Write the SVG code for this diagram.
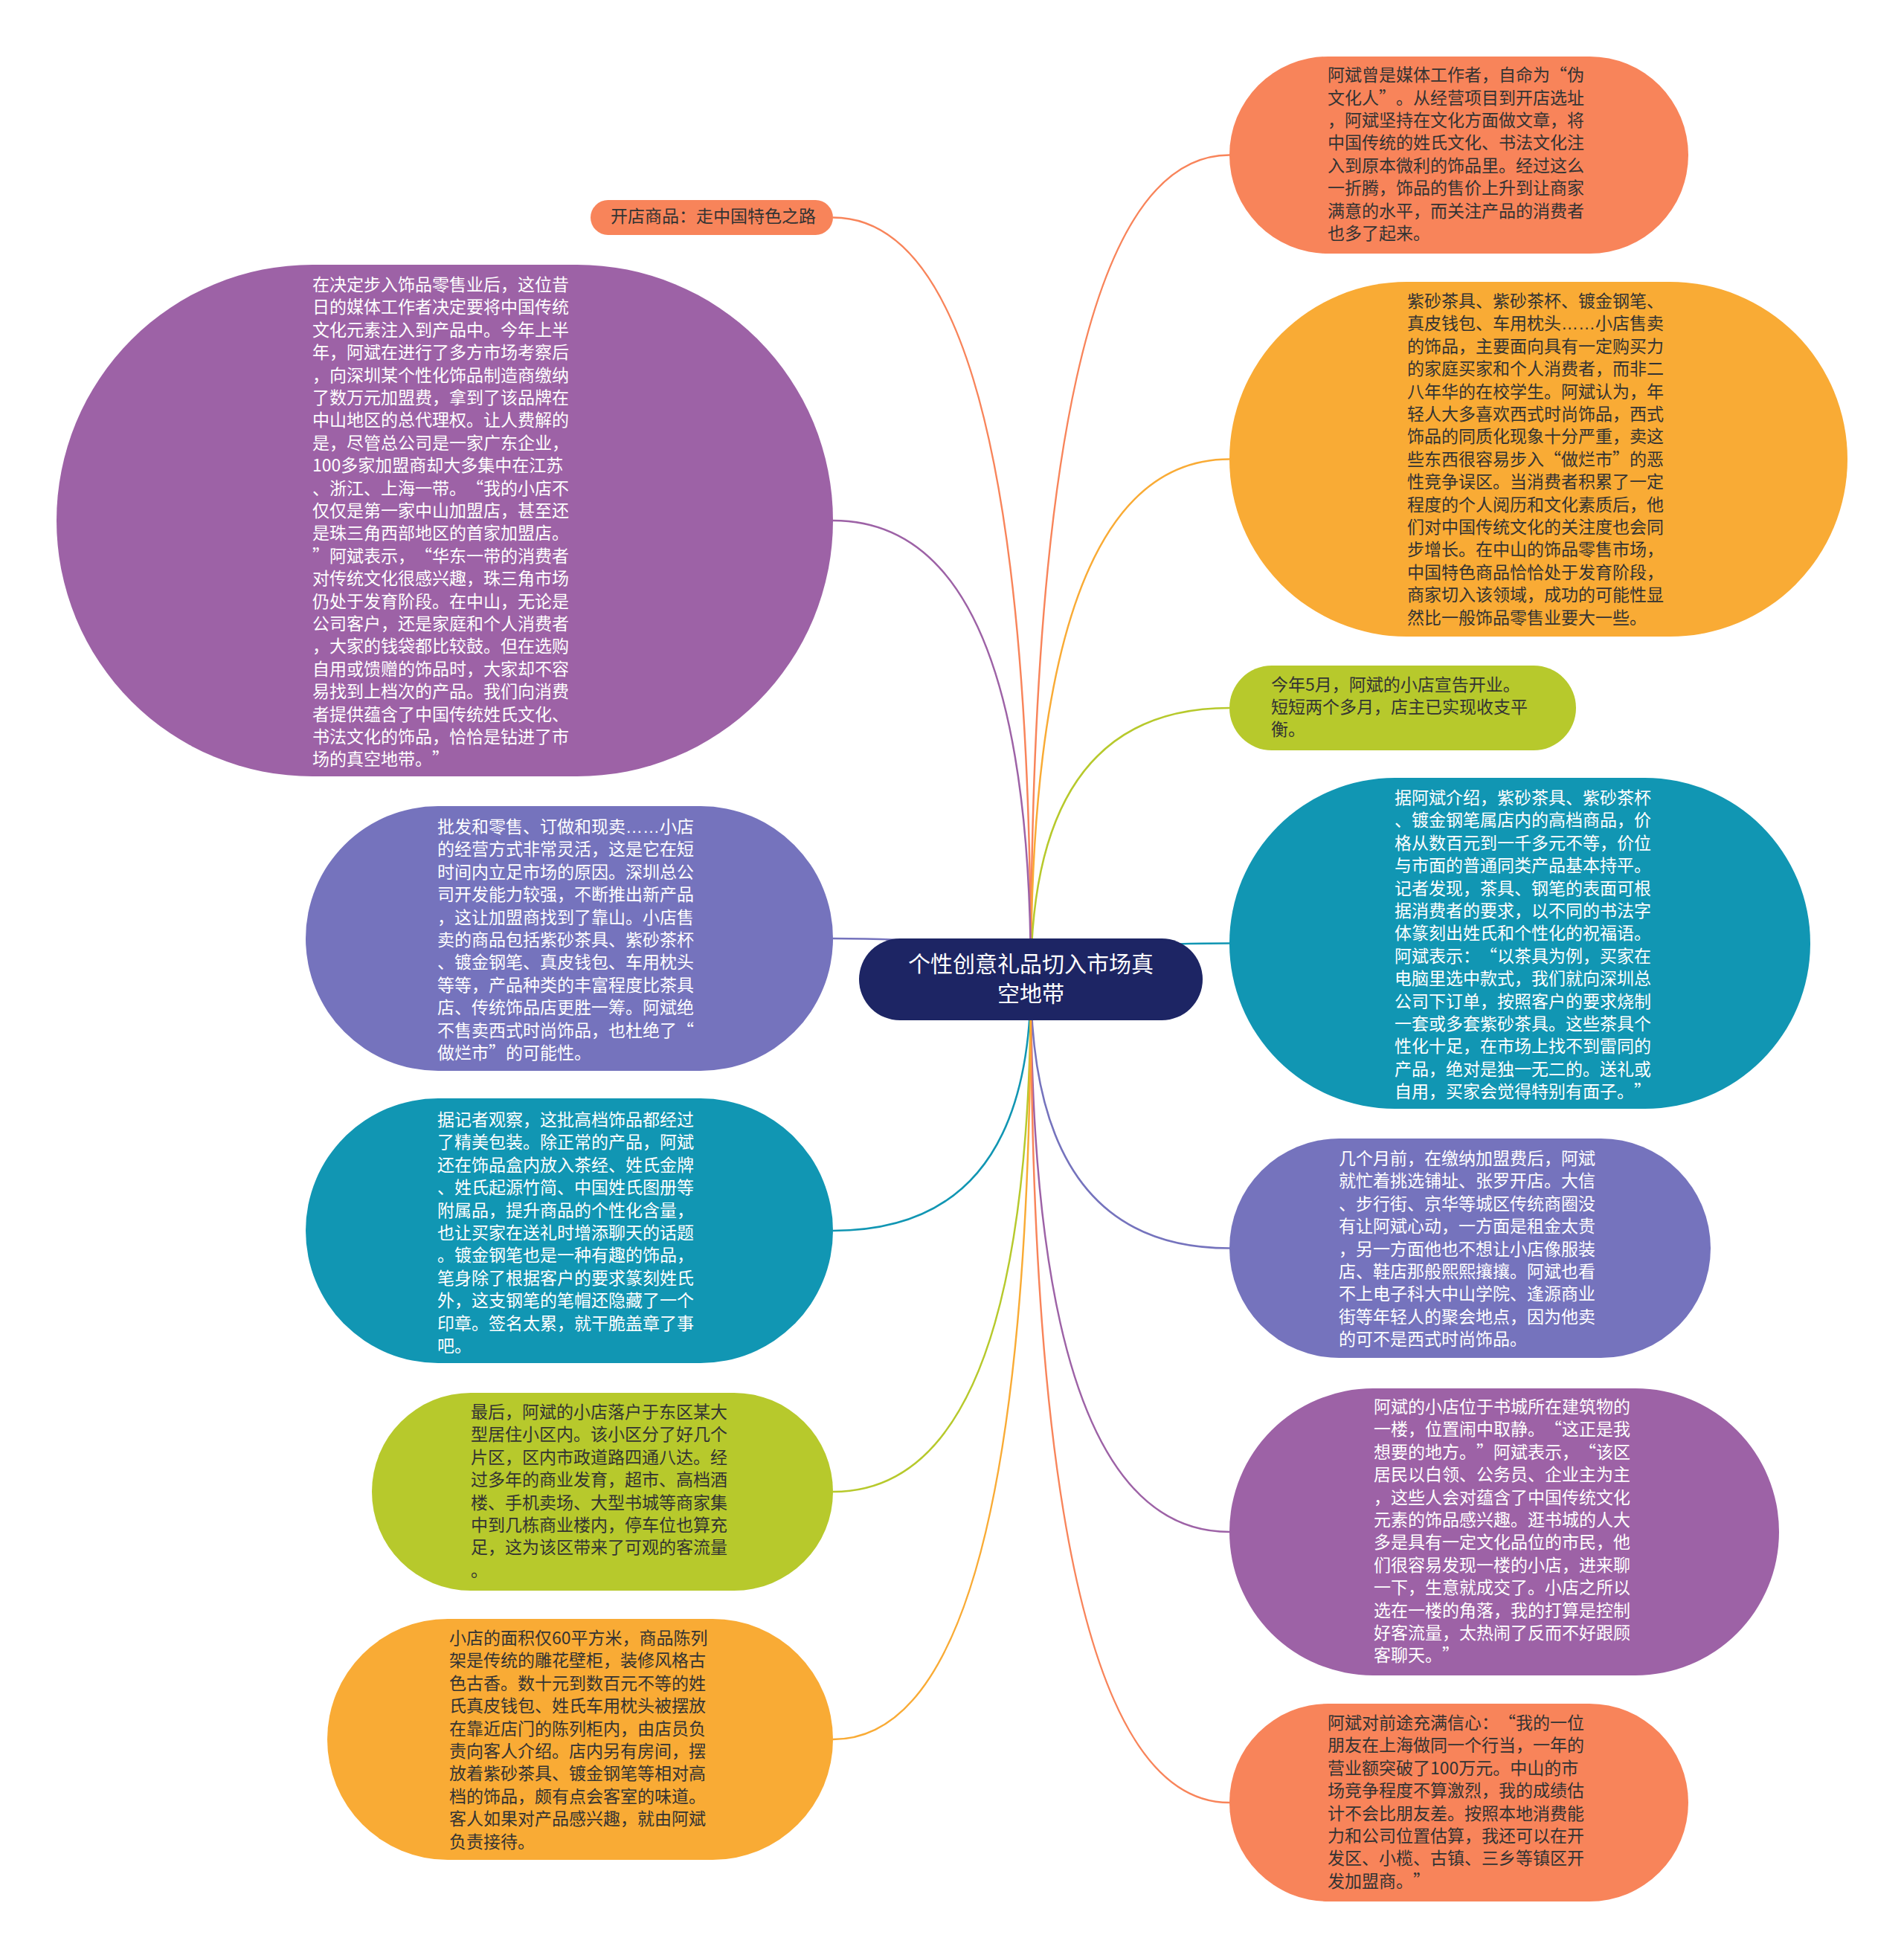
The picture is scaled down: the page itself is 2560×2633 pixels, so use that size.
<svg xmlns="http://www.w3.org/2000/svg" width="2560" height="2633" viewBox="0 0 2560 2633">
<style>
.t{font-family:"Noto Sans CJK SC","Noto Sans",sans-serif;font-size:23px;text-spacing-trim:space-all}
.d{fill:#333333}
.w{fill:#ffffff}
.c{fill:none;stroke-width:2.5}
.e{font-family:"Liberation Sans",sans-serif}
.root{font-family:"Noto Sans CJK SC","Noto Sans",sans-serif;font-size:30px;fill:#ffffff}
</style>
<rect width="2560" height="2633" fill="#ffffff"/>
<g id="connectors">
<path class="c" stroke="#F8845A" d="M1386 1317 Q1386 208.5 1653 208.5"/>
<path class="c" stroke="#F9AB35" d="M1386 1317 Q1386 617.5 1653 617.5"/>
<path class="c" stroke="#B7C92C" d="M1386 1317 Q1386 952 1653 952"/>
<path class="c" stroke="#1196B3" d="M1386 1317 Q1386 1268.5 1653 1268.5"/>
<path class="c" stroke="#7573BD" d="M1386 1317 Q1386 1678.5 1653 1678.5"/>
<path class="c" stroke="#9D62A6" d="M1386 1317 Q1386 2060 1653 2060"/>
<path class="c" stroke="#F8845A" d="M1386 1317 Q1386 2424 1653 2424"/>
<path class="c" stroke="#F8845A" d="M1386 1317 Q1386 292.5 1120 292.5"/>
<path class="c" stroke="#9D62A6" d="M1386 1317 Q1386 700 1120 700"/>
<path class="c" stroke="#7573BD" d="M1386 1317 Q1386 1262 1120 1262"/>
<path class="c" stroke="#1196B3" d="M1386 1317 Q1386 1655 1120 1655"/>
<path class="c" stroke="#B7C92C" d="M1386 1317 Q1386 2006 1120 2006"/>
<path class="c" stroke="#F9AB35" d="M1386 1317 Q1386 2339 1120 2339"/>
</g>
<g id="root">
<rect x="1155" y="1262" width="462" height="110" rx="55" fill="#1D2564"/>
<text class="root" text-anchor="middle"><tspan x="1386" y="1307">个性创意礼品切入市场真</tspan><tspan x="1386" y="1347">空地带</tspan></text>
</g>
<g id="n1">
<rect x="1653" y="76" width="617" height="265" rx="132.5" fill="#F8845A"/>
<text class="t d"><tspan x="1785" y="109.2">阿斌曾是媒体工作者，自命为“伪</tspan><tspan x="1785" y="139.6">文化人”。从经营项目到开店选址</tspan><tspan x="1785" y="170">，阿斌坚持在文化方面做文章，将</tspan><tspan x="1785" y="200.4">中国传统的姓氏文化、书法文化注</tspan><tspan x="1785" y="230.8">入到原本微利的饰品里。经过这么</tspan><tspan x="1785" y="261.2">一折腾，饰品的售价上升到让商家</tspan><tspan x="1785" y="291.6">满意的水平，而关注产品的消费者</tspan><tspan x="1785" y="322">也多了起来。</tspan></text>
</g>
<g id="n2">
<rect x="1653" y="379" width="831" height="477" rx="238.5" fill="#F9AB35"/>
<text class="t d"><tspan x="1892" y="413">紫砂茶具、紫砂茶杯、镀金钢笔、</tspan><tspan x="1892" y="443.4">真皮钱包、车用枕头<tspan class="e">……</tspan>小店售卖</tspan><tspan x="1892" y="473.8">的饰品，主要面向具有一定购买力</tspan><tspan x="1892" y="504.2">的家庭买家和个人消费者，而非二</tspan><tspan x="1892" y="534.6">八年华的在校学生。阿斌认为，年</tspan><tspan x="1892" y="565">轻人大多喜欢西式时尚饰品，西式</tspan><tspan x="1892" y="595.4">饰品的同质化现象十分严重，卖这</tspan><tspan x="1892" y="625.8">些东西很容易步入“做烂市”的恶</tspan><tspan x="1892" y="656.2">性竞争误区。当消费者积累了一定</tspan><tspan x="1892" y="686.6">程度的个人阅历和文化素质后，他</tspan><tspan x="1892" y="717">们对中国传统文化的关注度也会同</tspan><tspan x="1892" y="747.4">步增长。在中山的饰品零售市场，</tspan><tspan x="1892" y="777.8">中国特色商品恰恰处于发育阶段，</tspan><tspan x="1892" y="808.2">商家切入该领域，成功的可能性显</tspan><tspan x="1892" y="838.6">然比一般饰品零售业要大一些。</tspan></text>
</g>
<g id="n3">
<rect x="1653" y="895" width="466" height="114" rx="57" fill="#B7C92C"/>
<text class="t d"><tspan x="1709" y="928.5">今年5月，阿斌的小店宣告开业。</tspan><tspan x="1709" y="958.9">短短两个多月，店主已实现收支平</tspan><tspan x="1709" y="989.3">衡。</tspan></text>
</g>
<g id="n4">
<rect x="1653" y="1046" width="781" height="445" rx="222.5" fill="#1196B3"/>
<text class="t w"><tspan x="1875" y="1081">据阿斌介绍，紫砂茶具、紫砂茶杯</tspan><tspan x="1875" y="1111.4">、镀金钢笔属店内的高档商品，价</tspan><tspan x="1875" y="1141.8">格从数百元到一千多元不等，价位</tspan><tspan x="1875" y="1172.2">与市面的普通同类产品基本持平。</tspan><tspan x="1875" y="1202.6">记者发现，茶具、钢笔的表面可根</tspan><tspan x="1875" y="1233">据消费者的要求，以不同的书法字</tspan><tspan x="1875" y="1263.4">体篆刻出姓氏和个性化的祝福语。</tspan><tspan x="1875" y="1293.8">阿斌表示：“以茶具为例，买家在</tspan><tspan x="1875" y="1324.2">电脑里选中款式，我们就向深圳总</tspan><tspan x="1875" y="1354.6">公司下订单，按照客户的要求烧制</tspan><tspan x="1875" y="1385">一套或多套紫砂茶具。这些茶具个</tspan><tspan x="1875" y="1415.4">性化十足，在市场上找不到雷同的</tspan><tspan x="1875" y="1445.8">产品，绝对是独一无二的。送礼或</tspan><tspan x="1875" y="1476.2">自用，买家会觉得特别有面子。”</tspan></text>
</g>
<g id="n5">
<rect x="1653" y="1531" width="647" height="295" rx="147.5" fill="#7573BD"/>
<text class="t w"><tspan x="1800" y="1566">几个月前，在缴纳加盟费后，阿斌</tspan><tspan x="1800" y="1596.4">就忙着挑选铺址、张罗开店。大信</tspan><tspan x="1800" y="1626.8">、步行街、京华等城区传统商圈没</tspan><tspan x="1800" y="1657.2">有让阿斌心动，一方面是租金太贵</tspan><tspan x="1800" y="1687.6">，另一方面他也不想让小店像服装</tspan><tspan x="1800" y="1718">店、鞋店那般熙熙攘攘。阿斌也看</tspan><tspan x="1800" y="1748.4">不上电子科大中山学院、逢源商业</tspan><tspan x="1800" y="1778.8">街等年轻人的聚会地点，因为他卖</tspan><tspan x="1800" y="1809.2">的可不是西式时尚饰品。</tspan></text>
</g>
<g id="n6">
<rect x="1653" y="1867" width="739" height="386" rx="193" fill="#9D62A6"/>
<text class="t w"><tspan x="1847" y="1900">阿斌的小店位于书城所在建筑物的</tspan><tspan x="1847" y="1930.4">一楼，位置闹中取静。“这正是我</tspan><tspan x="1847" y="1960.8">想要的地方。”阿斌表示，“该区</tspan><tspan x="1847" y="1991.2">居民以白领、公务员、企业主为主</tspan><tspan x="1847" y="2021.6">，这些人会对蕴含了中国传统文化</tspan><tspan x="1847" y="2052">元素的饰品感兴趣。逛书城的人大</tspan><tspan x="1847" y="2082.4">多是具有一定文化品位的市民，他</tspan><tspan x="1847" y="2112.8">们很容易发现一楼的小店，进来聊</tspan><tspan x="1847" y="2143.2">一下，生意就成交了。小店之所以</tspan><tspan x="1847" y="2173.6">选在一楼的角落，我的打算是控制</tspan><tspan x="1847" y="2204">好客流量，太热闹了反而不好跟顾</tspan><tspan x="1847" y="2234.4">客聊天。”</tspan></text>
</g>
<g id="n7">
<rect x="1653" y="2291" width="617" height="266" rx="133" fill="#F8845A"/>
<text class="t d"><tspan x="1785" y="2325">阿斌对前途充满信心：“我的一位</tspan><tspan x="1785" y="2355.4">朋友在上海做同一个行当，一年的</tspan><tspan x="1785" y="2385.8">营业额突破了100万元。中山的市</tspan><tspan x="1785" y="2416.2">场竞争程度不算激烈，我的成绩估</tspan><tspan x="1785" y="2446.6">计不会比朋友差。按照本地消费能</tspan><tspan x="1785" y="2477">力和公司位置估算，我还可以在开</tspan><tspan x="1785" y="2507.4">发区、小榄、古镇、三乡等镇区开</tspan><tspan x="1785" y="2537.8">发加盟商。”</tspan></text>
</g>
<g id="n8">
<rect x="794" y="269" width="326" height="47" rx="23.5" fill="#F8845A"/>
<text class="t d"><tspan x="821" y="299">开店商品：走中国特色之路</tspan></text>
</g>
<g id="n9">
<rect x="76" y="356" width="1044" height="688" rx="344" fill="#9D62A6"/>
<text class="t w"><tspan x="420" y="391">在决定步入饰品零售业后，这位昔</tspan><tspan x="420" y="421.4">日的媒体工作者决定要将中国传统</tspan><tspan x="420" y="451.8">文化元素注入到产品中。今年上半</tspan><tspan x="420" y="482.2">年，阿斌在进行了多方市场考察后</tspan><tspan x="420" y="512.6">，向深圳某个性化饰品制造商缴纳</tspan><tspan x="420" y="543">了数万元加盟费，拿到了该品牌在</tspan><tspan x="420" y="573.4">中山地区的总代理权。让人费解的</tspan><tspan x="420" y="603.8">是，尽管总公司是一家广东企业，</tspan><tspan x="420" y="634.2">100多家加盟商却大多集中在江苏</tspan><tspan x="420" y="664.6">、浙江、上海一带。“我的小店不</tspan><tspan x="420" y="695">仅仅是第一家中山加盟店，甚至还</tspan><tspan x="420" y="725.4">是珠三角西部地区的首家加盟店。</tspan><tspan x="420" y="755.8">”阿斌表示，“华东一带的消费者</tspan><tspan x="420" y="786.2">对传统文化很感兴趣，珠三角市场</tspan><tspan x="420" y="816.6">仍处于发育阶段。在中山，无论是</tspan><tspan x="420" y="847">公司客户，还是家庭和个人消费者</tspan><tspan x="420" y="877.4">，大家的钱袋都比较鼓。但在选购</tspan><tspan x="420" y="907.8">自用或馈赠的饰品时，大家却不容</tspan><tspan x="420" y="938.2">易找到上档次的产品。我们向消费</tspan><tspan x="420" y="968.6">者提供蕴含了中国传统姓氏文化、</tspan><tspan x="420" y="999">书法文化的饰品，恰恰是钻进了市</tspan><tspan x="420" y="1029.4">场的真空地带。”</tspan></text>
</g>
<g id="n10">
<rect x="411" y="1084" width="709" height="356" rx="178" fill="#7573BD"/>
<text class="t w"><tspan x="588" y="1120">批发和零售、订做和现卖<tspan class="e">……</tspan>小店</tspan><tspan x="588" y="1150.4">的经营方式非常灵活，这是它在短</tspan><tspan x="588" y="1180.8">时间内立足市场的原因。深圳总公</tspan><tspan x="588" y="1211.2">司开发能力较强，不断推出新产品</tspan><tspan x="588" y="1241.6">，这让加盟商找到了靠山。小店售</tspan><tspan x="588" y="1272">卖的商品包括紫砂茶具、紫砂茶杯</tspan><tspan x="588" y="1302.4">、镀金钢笔、真皮钱包、车用枕头</tspan><tspan x="588" y="1332.8">等等，产品种类的丰富程度比茶具</tspan><tspan x="588" y="1363.2">店、传统饰品店更胜一筹。阿斌绝</tspan><tspan x="588" y="1393.6">不售卖西式时尚饰品，也杜绝了“</tspan><tspan x="588" y="1424">做烂市”的可能性。</tspan></text>
</g>
<g id="n11">
<rect x="411" y="1477" width="709" height="356" rx="178" fill="#1196B3"/>
<text class="t w"><tspan x="588" y="1514">据记者观察，这批高档饰品都经过</tspan><tspan x="588" y="1544.4">了精美包装。除正常的产品，阿斌</tspan><tspan x="588" y="1574.8">还在饰品盒内放入茶经、姓氏金牌</tspan><tspan x="588" y="1605.2">、姓氏起源竹简、中国姓氏图册等</tspan><tspan x="588" y="1635.6">附属品，提升商品的个性化含量，</tspan><tspan x="588" y="1666">也让买家在送礼时增添聊天的话题</tspan><tspan x="588" y="1696.4">。镀金钢笔也是一种有趣的饰品，</tspan><tspan x="588" y="1726.8">笔身除了根据客户的要求篆刻姓氏</tspan><tspan x="588" y="1757.2">外，这支钢笔的笔帽还隐藏了一个</tspan><tspan x="588" y="1787.6">印章。签名太累，就干脆盖章了事</tspan><tspan x="588" y="1818">吧。</tspan></text>
</g>
<g id="n12">
<rect x="500" y="1873" width="620" height="266" rx="133" fill="#B7C92C"/>
<text class="t d"><tspan x="633" y="1907">最后，阿斌的小店落户于东区某大</tspan><tspan x="633" y="1937.4">型居住小区内。该小区分了好几个</tspan><tspan x="633" y="1967.8">片区，区内市政道路四通八达。经</tspan><tspan x="633" y="1998.2">过多年的商业发育，超市、高档酒</tspan><tspan x="633" y="2028.6">楼、手机卖场、大型书城等商家集</tspan><tspan x="633" y="2059">中到几栋商业楼内，停车位也算充</tspan><tspan x="633" y="2089.4">足，这为该区带来了可观的客流量</tspan><tspan x="633" y="2119.8">。</tspan></text>
</g>
<g id="n13">
<rect x="440" y="2177" width="680" height="324" rx="162" fill="#F9AB35"/>
<text class="t d"><tspan x="604" y="2211">小店的面积仅60平方米，商品陈列</tspan><tspan x="604" y="2241.4">架是传统的雕花壁柜，装修风格古</tspan><tspan x="604" y="2271.8">色古香。数十元到数百元不等的姓</tspan><tspan x="604" y="2302.2">氏真皮钱包、姓氏车用枕头被摆放</tspan><tspan x="604" y="2332.6">在靠近店门的陈列柜内，由店员负</tspan><tspan x="604" y="2363">责向客人介绍。店内另有房间，摆</tspan><tspan x="604" y="2393.4">放着紫砂茶具、镀金钢笔等相对高</tspan><tspan x="604" y="2423.8">档的饰品，颇有点会客室的味道。</tspan><tspan x="604" y="2454.2">客人如果对产品感兴趣，就由阿斌</tspan><tspan x="604" y="2484.6">负责接待。</tspan></text>
</g>
</svg>
